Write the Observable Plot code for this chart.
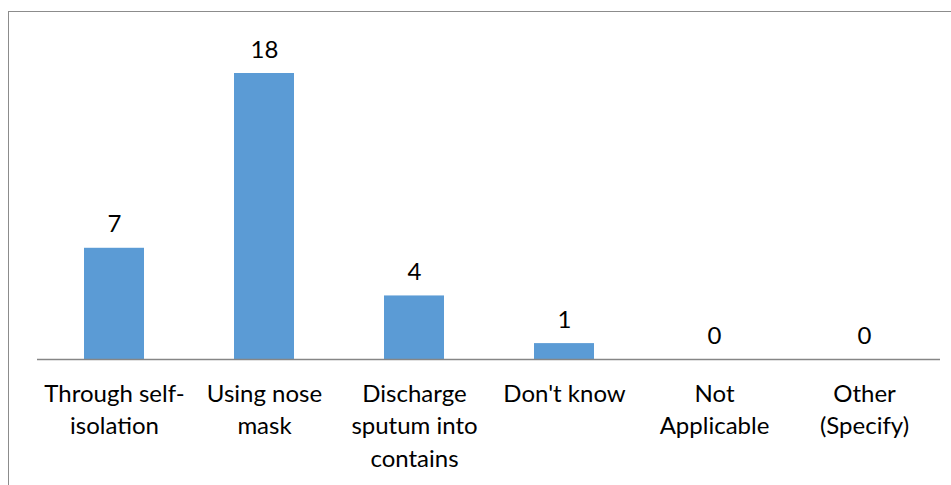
<!DOCTYPE html>
<html>
<head>
<meta charset="utf-8">
<script src="https://cdn.jsdelivr.net/npm/d3@7"></script>
<script src="https://cdn.jsdelivr.net/npm/@observablehq/plot@0.6"></script>
<style>
  html, body { margin: 0; padding: 0; background: #fff; }
  #wrap { position: relative; width: 951px; height: 485px; overflow: hidden; }
  #border { position: absolute; left: 8px; top: 11px; width: 2000px; height: 2000px;
            border-left: 1.5px solid #8c8c8c; border-top: 1.5px solid #8c8c8c; }
  #chart { position: absolute; left: 0; top: 0; }
</style>
</head>
<body>
<div id="wrap"><div id="border"></div><div id="chart"></div></div>
<script>
// Ways of preventing spread: number of respondents per answer
const categories = [
  "Through self-isolation",
  "Using nose mask",
  "Discharge sputum into contains",
  "Don't know",
  "Not Applicable",
  "Other (Specify)"
];
const tickLabels = [
  "Through self-\nisolation",
  "Using nose\nmask",
  "Discharge\nsputum into\ncontains",
  "Don't know",
  "Not\nApplicable",
  "Other\n(Specify)"
];
const counts = [7, 18, 4, 1, 0, 0];

const data = categories.map((c, i) => ({category: c, label: tickLabels[i], value: counts[i]}));
const labelOf = new Map(data.map(d => [d.category, d.label]));

const font = "Lato, 'Open Sans', sans-serif";

const chart = Plot.plot({
  width: 951,
  height: 485,
  marginTop: 73,
  marginBottom: 126,
  marginLeft: 37,
  marginRight: 11,
  style: {fontFamily: font, fontSize: "24px", color: "#000", background: "transparent", overflow: "visible"},
  x: {domain: categories, paddingInner: 0.6, paddingOuter: 0.3, label: null},
  y: {domain: [0, 18], label: null, axis: null},
  marks: [
    Plot.barY(data, {x: "category", y: "value", fill: "#5b9bd5"}),
    Plot.ruleY([0], {stroke: "#868686", strokeWidth: 1.5}),
    Plot.text(data, {x: "category", y: "value", text: d => String(d.value),
      lineAnchor: "bottom", dy: -16, fontSize: 24, fill: "#000"}),
    Plot.axisX({tickSize: 0, tickPadding: 19, fontSize: 24, lineHeight: 1.36,
      tickFormat: c => labelOf.get(c), fill: "#000"})
  ]
});
document.getElementById("chart").appendChild(chart);
</script>
</body>
</html>
